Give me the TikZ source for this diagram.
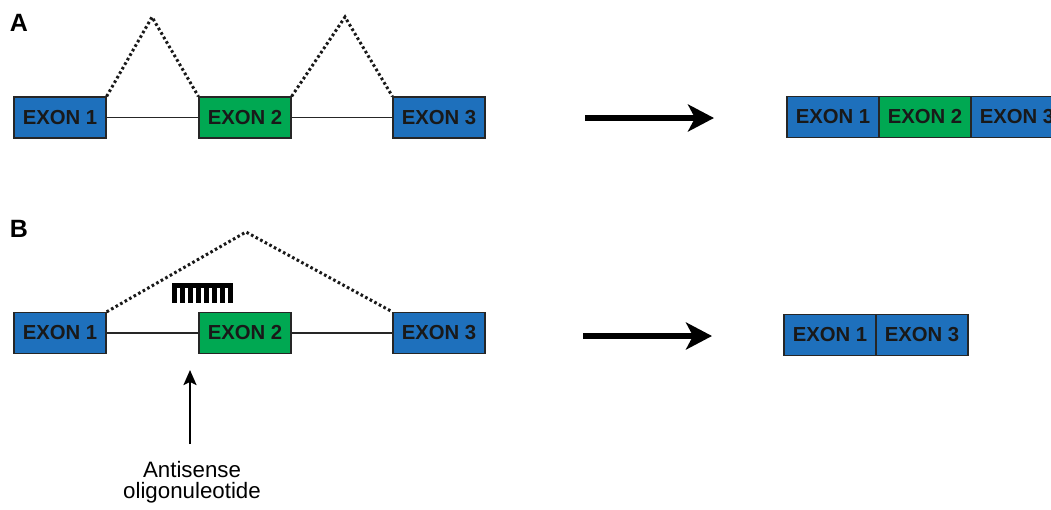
\documentclass[tikz,border=0pt]{standalone}
\usepackage{fontspec}
\setmainfont{Liberation Sans}
\usetikzlibrary{arrows.meta}
\definecolor{exblue}{RGB}{30,112,188}
\definecolor{exgreen}{RGB}{0,168,82}
\begin{document}
\begin{tikzpicture}[x=1pt,y=-1pt,
  exon/.style={draw=black!85,line width=1.3pt,minimum width=92pt,minimum height=41pt,inner sep=0pt,
    font=\fontsize{20.3}{22}\selectfont\bfseries,text=black!90},
  bluex/.style={exon,fill=exblue},
  greenx/.style={exon,fill=exgreen},
  intron/.style={line width=1.3pt,black!85},
  splice/.style={line width=3pt,dash pattern=on 2.6pt off 2.6pt,black!90},
  bigarrow/.style={line width=5.5pt,-{Stealth[length=26pt,width=27pt,inset=7pt]}},
  smallarrow/.style={line width=2.2pt,-{Stealth[length=15pt,width=13pt,inset=3pt]}},
  panel/.style={font=\fontsize{25}{28}\selectfont\bfseries,inner sep=0pt},
  lab/.style={font=\fontsize{22.3}{24}\selectfont,align=center,inner sep=0pt}]
\clip (0,0) rectangle (1051,509);
\fill[white] (0,0) rectangle (1051,509);
% Panel A
\node[panel] (A) at (19,23) {A};
\node[bluex] (a1) at (60,117.5) {EXON 1};
\node[greenx] (a2) at (245,117.5) {EXON 2};
\node[bluex] (a3) at (439,117.5) {EXON 3};
\draw[intron] (a1.east) -- (a2.west);
\draw[intron] (a2.east) -- (a3.west);
\coordinate (pa1) at (152,17);
\coordinate (pa2) at (345,17);
\draw[splice] (a1.north east) -- (pa1) -- (a2.north west);
\draw[splice] (a2.north east) -- (pa2) -- (a3.north west);
\coordinate (arA1) at (585,118);
\coordinate (arA2) at (714,118);
\draw[bigarrow] (arA1) -- (arA2);
\node[bluex] (ra1) at (833,117) {EXON 1};
\node[greenx] (ra2) at (925,117) {EXON 2};
\node[bluex] (ra3) at (1017,117) {EXON 3};
% Panel B
\node[panel] (B) at (19,229) {B};
\node[bluex] (b1) at (60,333) {EXON 1};
\node[greenx] (b2) at (245,333) {EXON 2};
\node[bluex] (b3) at (439,333) {EXON 3};
\draw[intron] (b1.east) -- (b2.west);
\draw[intron] (b2.east) -- (b3.west);
\coordinate (pb) at (246,232);
\draw[splice] (b1.north east) -- (pb) -- (b3.north west);
% antisense comb
\fill[black] (172,283) rectangle (233,287.5);
\foreach \i in {0,...,7}{
  \draw[line width=4.8pt] ({174.8+8.0*\i},287) -- ({174.8+8.0*\i},303);
}
\coordinate (arB1) at (583,336);
\coordinate (arB2) at (712,336);
\draw[bigarrow] (arB1) -- (arB2);
\node[bluex] (rb1) at (830,335) {EXON 1};
\node[bluex] (rb3) at (922,335) {EXON 3};
\node[lab] (aso) at (192,482) {Antisense\\[-3pt]oligonuleotide};
\coordinate (tailB) at (190,444);
\coordinate (tipB) at (190,370);
\draw[smallarrow] (tailB) -- (tipB);
\end{tikzpicture}
\end{document}
